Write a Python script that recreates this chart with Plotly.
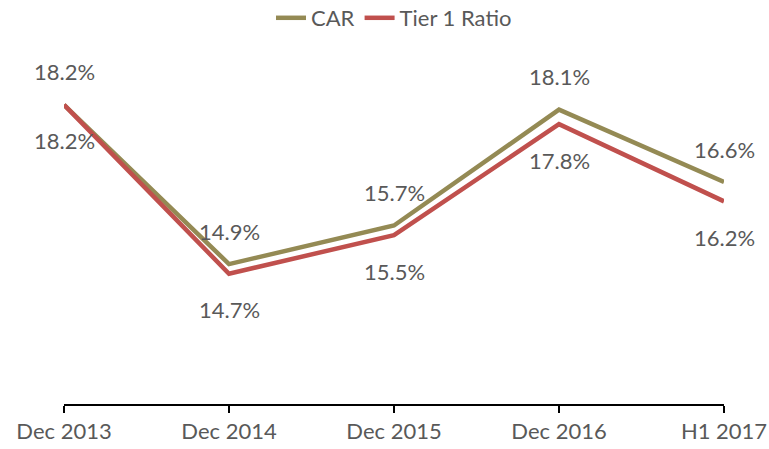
import plotly.graph_objects as go

categories = ["Dec 2013", "Dec 2014", "Dec 2015", "Dec 2016", "H1 2017"]
car = [18.2, 14.9, 15.7, 18.1, 16.6]
tier1 = [18.2, 14.7, 15.5, 17.8, 16.2]

CAR_COLOR = "#948A54"
T1_COLOR = "#C0504D"
TEXT_COLOR = "#595959"
FONT = "Lato"
FS = 22

fig = go.Figure()
fig.add_trace(go.Scatter(x=categories, y=car, name="CAR", mode="lines",
                         line=dict(color=CAR_COLOR, width=4.5)))
fig.add_trace(go.Scatter(x=categories, y=tier1, name="Tier 1 Ratio", mode="lines",
                         line=dict(color=T1_COLOR, width=4.5)))

annotations = []
for c, v in zip(categories, car):
    annotations.append(dict(x=c, y=v, text=f"{v:.1f}%", showarrow=False,
                            yshift=33, font=dict(size=FS, color=TEXT_COLOR, family=FONT)))
for c, v in zip(categories, tier1):
    annotations.append(dict(x=c, y=v, text=f"{v:.1f}%", showarrow=False,
                            yshift=-36, font=dict(size=FS, color=TEXT_COLOR, family=FONT)))

fig.update_layout(
    width=769, height=449,
    margin=dict(l=64, r=45, t=18, b=45, autoexpand=False),
    paper_bgcolor="white", plot_bgcolor="white",
    font=dict(family=FONT, size=FS, color=TEXT_COLOR),
    showlegend=True,
    legend=dict(orientation="h", x=0.5, xanchor="center", y=1.0, yanchor="middle",
                font=dict(size=FS, color=TEXT_COLOR, family=FONT), bgcolor="rgba(0,0,0,0)",
                traceorder="normal"),
    annotations=annotations,
    xaxis=dict(type="category", range=[0, 4], showgrid=False, zeroline=False,
               automargin=False,
               showline=True, linecolor="#000000", linewidth=1.5,
               ticks="outside", ticklen=7, tickcolor="#000000", tickwidth=1.5,
               tickfont=dict(size=FS, color=TEXT_COLOR, family=FONT)),
    yaxis=dict(range=[12, 20], visible=False, showgrid=False, zeroline=False,
               automargin=False),
)

fig.write_html("out.html", config={"displayModeBar": False},
               post_script="document.body.style.margin='0';document.body.style.overflow='hidden';")
